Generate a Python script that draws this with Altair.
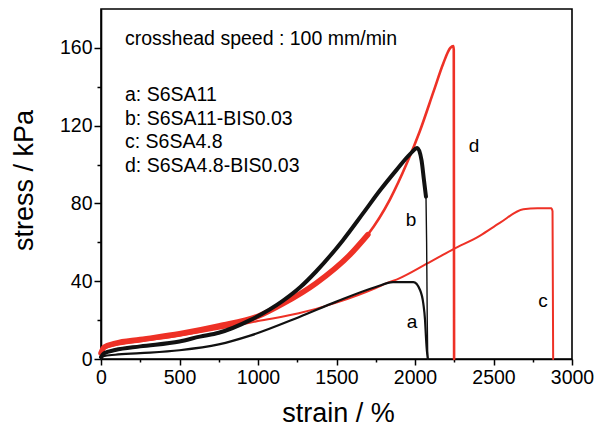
import altair as alt
import pandas as pd

# ---- data ----
a_strain = [0, 15, 90, 250, 500, 750, 950, 1260, 1500, 1750, 1860, 1990, 2032, 2053, 2064, 2070, 2076, 2082]
a_stress = [0, 1.5, 2.2, 3, 4.5, 7.5, 12, 21.5, 29.5, 37, 39.5, 39.5, 35.5, 28.5, 20, 11, 4, 0]

b_strain = [0, 20, 90, 250, 500, 630, 750, 950, 1160, 1270, 1370, 1540, 1670, 1780, 1880, 1970, 2015, 2042, 2057, 2070, 2074, 2078, 2081]
b_stress = [1, 3, 4.6, 6.5, 9, 11.5, 13.5, 20, 30, 37, 45, 61, 75, 87, 97, 105.5, 108.5, 102, 92, 83.5, 60, 20, 0]

c_strain = [0, 20, 90, 250, 500, 750, 1000, 1260, 1500, 1750, 1820, 1900, 2075, 2245, 2415, 2540, 2690, 2780, 2868, 2876, 2880]
c_stress = [3, 5.5, 7, 9, 12, 15.5, 19.5, 23.5, 29, 36.5, 39, 41.5, 49, 56.5, 63.5, 70, 77, 77.5, 77.5, 76, 0]

d_strain = [0, 20, 90, 250, 500, 750, 1000, 1160, 1370, 1590, 1700, 1840, 1950, 2030, 2120, 2180, 2225, 2244, 2247, 2249]
d_stress = [3, 6, 8, 10, 13, 17, 22, 28.5, 39, 54, 64, 82, 101, 117, 138, 152, 160, 161, 159, 0]

x_ticks = [0, 250, 500, 750, 1000, 1250, 1500, 1750, 2000, 2250, 2500, 2750, 3000]
y_ticks = [0, 20, 40, 60, 80, 100, 120, 140, 160]

curve_labels = ["a", "b", "c", "d"]
label_strain = [1981, 1975, 2815, 2376]
label_stress = [18.8, 71.5, 29.8, 109.6]

note_text = "crosshead speed : 100 mm/min"
legend_lines = ["a: S6SA11", "b: S6SA11-BIS0.03", "c: S6SA4.8", "d: S6SA4.8-BIS0.03"]

FONT = "Liberation Sans"
RED = "#ee3126"
BLACK = "#111111"


def frame(xs, ys):
    return pd.DataFrame({"strain": xs, "stress": ys, "i": list(range(len(xs)))})


df_a = frame(a_strain, a_stress)
df_b = frame(b_strain, b_stress)
df_c = frame(c_strain, c_stress)
df_d = frame(d_strain, d_stress)

xscale = alt.Scale(domain=[0, 3000], nice=False, zero=False)
yscale = alt.Scale(domain=[0, 180], nice=False, zero=False)

xaxis = alt.Axis(
    values=x_ticks,
    labelExpr="datum.value % 500 === 0 ? datum.label : ''",
    format="d",
    tickSize={"condition": {"test": "datum.value % 500 === 0", "value": 6}, "value": 3},
    title="strain / %",
    titleFontSize=27,
    titleFontWeight="normal",
    titleBaseline="alphabetic",
    titleX=237,
    titleY=62,
    labelFontSize=19.5,
    labelPadding=3,
    labelFlush=False,
    labelOverlap=False,
    grid=False,
)
yaxis = alt.Axis(
    values=y_ticks,
    labelExpr="datum.value % 40 === 0 ? datum.label : ''",
    format="d",
    tickSize={"condition": {"test": "datum.value % 40 === 0", "value": 7}, "value": 4},
    title="stress / kPa",
    titleFontSize=27,
    titleFontWeight="normal",
    titleAngle=270,
    titleBaseline="middle",
    titleAlign="center",
    titleX=-77,
    titleY=171,
    labelFontSize=19.5,
    labelPadding=2,
    labelFlush=False,
    labelOverlap=False,
    grid=False,
)


def enc_xy():
    return dict(
        x=alt.X("strain:Q", scale=xscale, axis=xaxis),
        y=alt.Y("stress:Q", scale=yscale, axis=yaxis),
    )


def line(df, color, width, filt=None):
    ch = alt.Chart(df)
    if filt:
        ch = ch.transform_filter(filt)
    return ch.mark_line(
        color=color, strokeWidth=width, strokeJoin="round", strokeCap="round", interpolate="monotone"
    ).encode(order="i:Q", **enc_xy())


layers = [
    line(df_c, RED, 2.0),
    line(df_d, RED, 5.5, filt="datum.strain <= 1700"),
    line(df_d, RED, 2.6),
    line(df_a, BLACK, 2.2),
    line(df_b, BLACK, 4.0, filt="datum.strain <= 2070"),
    line(df_b, BLACK, 1.4, filt="datum.strain >= 2070"),
]

lab_df = pd.DataFrame({"label": curve_labels, "strain": label_strain, "stress": label_stress})
layers.append(
    alt.Chart(lab_df)
    .mark_text(font=FONT, fontSize=19, color="#000000", align="center", baseline="middle")
    .encode(text="label:N", **enc_xy())
)

text_base = alt.Chart(pd.DataFrame({"k": [0]}))
layers.append(
    text_base.mark_text(font=FONT, fontSize=19.5, color="#000000", align="left", baseline="alphabetic")
    .encode(x=alt.value(24), y=alt.value(36), text=alt.value(note_text))
)
for k, t in enumerate(legend_lines):
    layers.append(
        text_base.mark_text(font=FONT, fontSize=19.5, color="#000000", align="left", baseline="alphabetic")
        .encode(x=alt.value(24), y=alt.value(92 + 23.5 * k), text=alt.value(t))
    )

chart = (
    alt.layer(*layers)
    .properties(
        width=471,
        height=350,
        padding={"left": 101, "top": 9, "right": 22, "bottom": 67},
        autosize=alt.AutoSizeParams(type="none"),
    )
    .configure(font=FONT, background="white")
    .configure_view(stroke="#000000", strokeWidth=1.6)
    .configure_axis(
        domainColor="#000000",
        domainWidth=1.6,
        tickColor="#000000",
        tickWidth=1.5,
        labelColor="#000000",
        titleColor="#000000",
        labelFont=FONT,
        titleFont=FONT,
    )
)

chart.save("out.html", embed_options={"renderer": "svg", "actions": False})
